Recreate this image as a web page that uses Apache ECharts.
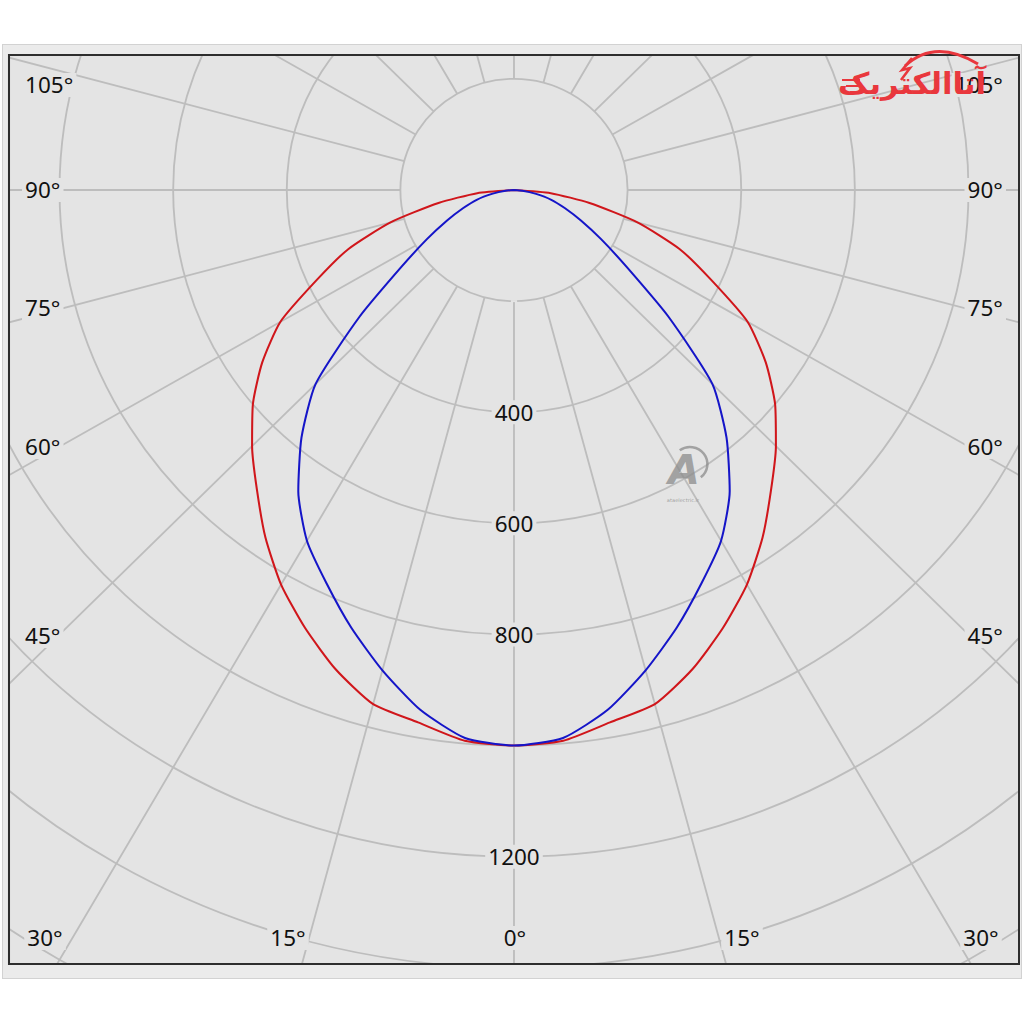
<!DOCTYPE html>
<html>
<head>
<meta charset="utf-8">
<script src="https://cdn.jsdelivr.net/npm/echarts@6/dist/echarts.min.js"></script>
<style>
html,body{margin:0;padding:0;background:#ffffff;overflow:hidden;}
#c{position:absolute;left:0;top:0;width:1002px;height:1024px;transform:scaleX(1.0225);transform-origin:0 0;}
</style>
</head>
<body>
<div id="c"></div>
<script>
// ---- data ----
const angles = [0,5,10,15,20,25,30,35,40,45,50,55,60,65,70,75,80,85,90];
const redValues  = [1000,995,973,958,918,870,820,763,704,652,600,541,475,383,310,225,135,65,0];
const blueValues = [1000,990,950,895,838,781,729,662,582,494,355,243,177,130,95,68,38,15,0];
const radialTickLabels = [400,600,800,1200];
const sideAngleLabels = [105,90,75,60,45];
const bottomAngleLabels = [30,15,0,15,30];
const logoText = 'آتاالکتریک';
const watermarkText = 'ataelectric.ir';

// ---- layout ----
const K = 1.0225;              // horizontal stretch of the reference
const sx = v => v / K;
const W = 1002, H = 1024;
const PLOT_BG = '#e4e4e4';
const RING_BG = '#ebebeb';
const GRID = '#bdbdbd';
const CX = sx(514), CY = 190;
const PXU = 0.5556;            // px per unit radially
const RMAX = 1800;
const R = RMAX * PXU;

function buildPath(vals){
  const pts = [];
  for (let i = angles.length - 1; i >= 1; i--) pts.push([vals[i], 360 - angles[i]]);
  pts.push([vals[0], 360]);
  for (let i = 1; i < angles.length; i++) pts.push([vals[i], angles[i]]);
  return pts;
}

const FONT = '"Noto Sans", "Liberation Sans", sans-serif';
const textEls = [];
const sideYs = [85,190,308,447,636];
sideAngleLabels.forEach((a,i)=>{
  textEls.push({type:'text', z:110, style:{text:a+'°', x:sx(22), y:sideYs[i], textAlign:'left', textVerticalAlign:'middle',
    font:'22px '+FONT, fill:'#111', backgroundColor:PLOT_BG, padding:[1,3]}});
  textEls.push({type:'text', z:110, style:{text:a+'°', x:sx(1006), y:sideYs[i], textAlign:'right', textVerticalAlign:'middle',
    font:'22px '+FONT, fill:'#111', backgroundColor:PLOT_BG, padding:[1,3]}});
});
const bottomXs = [45,288,515,742,981];
bottomAngleLabels.forEach((a,i)=>{
  textEls.push({type:'text', z:110, style:{text:a+'°', x:sx(bottomXs[i]), y:938, textAlign:'center', textVerticalAlign:'middle',
    font:'22px '+FONT, fill:'#111', backgroundColor:PLOT_BG, padding:[1,3]}});
});

const masks = [
  {type:'rect', z:100, shape:{x:0,y:0,width:W,height:44}, style:{fill:'#ffffff'}},
  {type:'rect', z:100, shape:{x:0,y:979,width:W,height:H-979}, style:{fill:'#ffffff'}},
  {type:'rect', z:100, shape:{x:0,y:0,width:sx(2),height:H}, style:{fill:'#ffffff'}},
  {type:'rect', z:100, shape:{x:sx(1022),y:0,width:W,height:H}, style:{fill:'#ffffff'}},
  {type:'rect', z:100, shape:{x:sx(2),y:44,width:sx(1020),height:11}, style:{fill:RING_BG}},
  {type:'rect', z:100, shape:{x:sx(2),y:964,width:sx(1020),height:15}, style:{fill:RING_BG}},
  {type:'rect', z:100, shape:{x:sx(2),y:55,width:sx(7),height:909}, style:{fill:RING_BG}},
  {type:'rect', z:100, shape:{x:sx(1019),y:55,width:sx(3),height:909}, style:{fill:RING_BG}},
  {type:'rect', z:101, shape:{x:sx(2.5),y:44.5,width:sx(1019),height:934}, style:{fill:null, stroke:'#d2d2d2', lineWidth:1}},
  {type:'rect', z:101, shape:{x:sx(9),y:55,width:sx(1010),height:909}, style:{fill:null, stroke:'#2e2e2e', lineWidth:2}}
];

const logo = [
  {type:'text', z:120, style:{text:logoText, x:sx(912), y:84, textAlign:'center', textVerticalAlign:'middle',
    font:'bold 30px "DejaVu Sans", sans-serif', fill:'#e9373d'}},
  {type:'bezierCurve', z:120, shape:{x1:sx(905),y1:66,x2:sx(978),y2:64,cpx1:sx(935),cpy1:38}, style:{stroke:'#e9373d', lineWidth:3, fill:null}},
  {type:'polyline', z:120, shape:{points:[[sx(912),58],[sx(902),70],[sx(910),68],[sx(901),80]]}, style:{stroke:'#e9373d', lineWidth:2.5, fill:null}},
  {type:'line', z:120, shape:{x1:sx(842),y1:80,x2:sx(860),y2:80}, style:{stroke:'#e9373d', lineWidth:2}},
  {type:'line', z:120, shape:{x1:sx(846),y1:86,x2:sx(862),y2:86}, style:{stroke:'#e9373d', lineWidth:2}},
  {type:'line', z:120, shape:{x1:sx(850),y1:92,x2:sx(864),y2:92}, style:{stroke:'#e9373d', lineWidth:2}},
  {type:'text', z:50, style:{text:'A', x:sx(684), y:470, textAlign:'center', textVerticalAlign:'middle',
    font:'italic bold 40px "DejaVu Sans", sans-serif', fill:'rgba(140,140,140,0.75)'}},
  {type:'arc', z:50, shape:{cx:sx(690), cy:464, r:17, startAngle:-2.2, endAngle:0.9}, style:{stroke:'rgba(140,140,140,0.75)', lineWidth:2.5, fill:null}},
  {type:'text', z:50, style:{text:watermarkText, x:sx(683), y:500, textAlign:'center', textVerticalAlign:'middle',
    font:'5px "DejaVu Sans", sans-serif', fill:'rgba(140,140,140,0.8)'}}
];

const chart = echarts.init(document.getElementById('c'), null, {renderer:'svg', width:W, height:H});
chart.setOption({
  backgroundColor: PLOT_BG,
  animation: false,
  polar: [
    {center:[CX, CY], radius: R},
    {center:[CX, CY], radius: [200*PXU, R]}
  ],
  angleAxis: [
    {polarIndex:0, type:'value', min:0, max:360, startAngle:270, clockwise:true, z:1,
     axisLine:{show:false}, axisTick:{show:false}, axisLabel:{show:false}, splitLine:{show:false}},
    {polarIndex:1, type:'value', min:0, max:360, interval:15, startAngle:270, clockwise:true, z:1,
     axisLine:{show:false}, axisTick:{show:false}, axisLabel:{show:false},
     splitLine:{show:true, lineStyle:{color:GRID, width:1.8}}}
  ],
  radiusAxis: [
    {polarIndex:0, type:'value', min:0, max:RMAX, interval:200, z:5,
     axisLine:{show:false}, axisTick:{show:false},
     splitLine:{show:true, lineStyle:{color:GRID, width:1.8}},
     axisLabel:{show:true, margin:0, align:'center', verticalAlign:'middle',
       formatter: v => radialTickLabels.indexOf(v) >= 0 ? String(v) : '',
       color:'#111', fontSize:22, fontFamily:'Noto Sans', backgroundColor:PLOT_BG, padding:[1,3]}},
    {polarIndex:1, type:'value', min:0, max:RMAX, show:false}
  ],
  series: [
    {type:'line', coordinateSystem:'polar', polarIndex:0, data: buildPath(redValues), showSymbol:false, smooth:0.2, z:10,
     lineStyle:{color:'#d0161b', width:2}},
    {type:'line', coordinateSystem:'polar', polarIndex:0, data: buildPath(blueValues), showSymbol:false, smooth:0.2, z:11,
     lineStyle:{color:'#1515c8', width:2}}
  ],
  graphic: { elements: masks.concat(textEls).concat(logo) }
});
</script>
</body>
</html>
